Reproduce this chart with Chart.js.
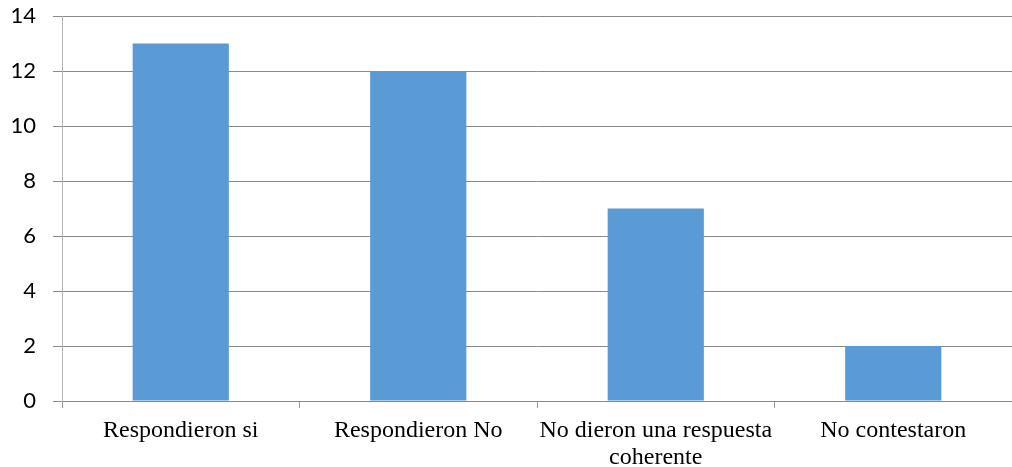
<!DOCTYPE html>
<html>
<head>
<meta charset="utf-8">
<script src="https://cdn.jsdelivr.net/npm/chart.js@4"></script>
<style>
  html, body { margin: 0; padding: 0; background: #fff; }
  #wrap { width: 1012px; height: 467px; }
</style>
</head>
<body>
<div id="wrap"><canvas id="barChart"></canvas></div>
<script>
const categories = [
  'Respondieron si',
  'Respondieron No',
  ['No dieron una respuesta', 'coherente'],
  'No contestaron'
];
const respuestas = [13, 12, 7, 2];
const yTicks = [0, 2, 4, 6, 8, 10, 12, 14];

const ctx = document.querySelector('#barChart').getContext('2d');
const barChart = new Chart(ctx, {
  type: 'bar',
  data: {
    labels: categories,
    datasets: [{
      label: 'Respuestas',
      data: respuestas,
      backgroundColor: '#5B9BD5',
      borderWidth: 0,
      categoryPercentage: 1,
      barPercentage: 0.405
    }]
  },
  options: {
    responsive: true,
    maintainAspectRatio: false,
    animation: false,
    layout: { padding: { top: 16, right: 0, left: 0, bottom: 0 } },
    plugins: {
      legend: { display: false },
      tooltip: { enabled: false }
    },
    scales: {
      x: {
        grid: {
          offset: true,
          drawOnChartArea: false,
          drawTicks: true,
          tickLength: 7,
          color: '#9a9a9a'
        },
        border: { display: true, color: '#898989' },
        ticks: {
          color: '#000',
          padding: 9,
          maxRotation: 0,
          autoSkip: false,
          font: { family: '"Liberation Serif", "Times New Roman", serif', size: 24, lineHeight: 1.12 }
        },
        afterFit: (scale) => { scale.height = 66; }
      },
      y: {
        min: 0,
        max: 14,
        afterBuildTicks: (scale) => { scale.ticks = yTicks.map(v => ({ value: v })); },
        grid: {
          color: '#898989',
          tickLength: 9,
          drawTicks: true
        },
        border: { display: true, color: '#b5b5b5' },
        ticks: {
          color: '#000',
          padding: 17,
          font: { family: 'Lato, "Open Sans", sans-serif', size: 22 }
        },
        afterFit: (scale) => {
          scale.width = 62;
          scale.paddingTop = 0;
          scale.paddingBottom = 0;
        }
      }
    }
  }
});
</script>
</body>
</html>
